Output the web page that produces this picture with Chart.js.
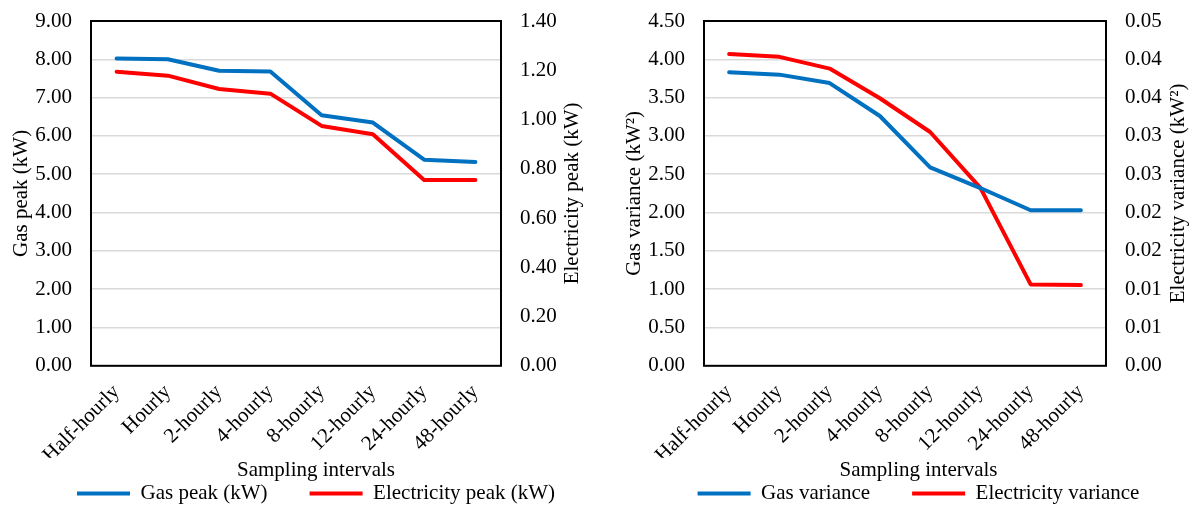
<!DOCTYPE html>
<html>
<head>
<meta charset="utf-8">
<script src="https://cdn.jsdelivr.net/npm/chart.js@4.4.1/dist/chart.umd.min.js"></script>
<style>
  html, body { margin: 0; padding: 0; background: #fff; width: 1192px; height: 506px; overflow: hidden; }
  .panel { position: absolute; top: 0; height: 514px; }
  #leftPanel { left: 0; width: 632px; }
  #rightPanel { left: 596px; width: 645px; }
</style>
</head>
<body>
<div class="panel" id="leftPanel"><canvas id="peakChart"></canvas></div>
<div class="panel" id="rightPanel"><canvas id="varChart"></canvas></div>
<script>
const intervals = ['Half-hourly', 'Hourly', '2-hourly', '4-hourly', '8-hourly', '12-hourly', '24-hourly', '48-hourly']
const gasPeak = [8.02, 8.00, 7.70, 7.68, 6.54, 6.35, 5.38, 5.32]
const elecPeak = [1.194, 1.178, 1.124, 1.105, 0.974, 0.940, 0.754, 0.754]
const gasVariance = [3.83, 3.80, 3.69, 3.26, 2.59, 2.32, 2.03, 2.03]
const elecVariance = [0.0452, 0.0448, 0.0431, 0.0388, 0.0339, 0.0258, 0.0118, 0.0117]

const BLUE = '#0070C0'
const RED = '#FF0000'
const FONT = '"Liberation Serif", "Times New Roman", serif'

Chart.defaults.font.family = FONT
Chart.defaults.font.size = 21
Chart.defaults.color = '#000'

// plot frame + a bottom-to-top title on the right axis (Chart.js only rotates it the other way)
const frameAndRightTitle = {
  id: 'frameAndRightTitle',
  afterDraw(chart, args, opts) {
    const { ctx, chartArea: a } = chart
    ctx.save()
    ctx.strokeStyle = '#000'
    ctx.lineWidth = 2
    ctx.strokeRect(a.left, a.top, a.width, a.height)
    const s = chart.scales.y1
    ctx.translate(s.right - opts.offset, (s.top + s.bottom) / 2)
    ctx.rotate(-Math.PI / 2)
    ctx.textAlign = 'center'
    ctx.textBaseline = 'middle'
    ctx.fillStyle = '#000'
    ctx.font = '21px ' + FONT
    ctx.fillText(opts.text, 0, 0)
    ctx.restore()
  }
}

function lineSet(label, data, color, axis) {
  return {
    label, data, yAxisID: axis,
    borderColor: color, backgroundColor: color,
    borderWidth: 4, pointRadius: 0, tension: 0,
    borderCapStyle: 'round', borderJoinStyle: 'round'
  }
}

// fixed axis width; drop the tick padding that Chart.js adds above/below the y labels
function fixAxis(width) {
  return s => {
    s.width = width
    s.paddingTop = 0
    s.paddingBottom = 0
  }
}

function makeChart(id, cfg) {
  return new Chart(document.getElementById(id), {
    type: 'line',
    data: {
      labels: intervals,
      datasets: [
        lineSet(cfg.gasLabel, cfg.gas, BLUE, 'y'),
        lineSet(cfg.elecLabel, cfg.elec, RED, 'y1')
      ]
    },
    plugins: [frameAndRightTitle],
    options: {
      responsive: true,
      maintainAspectRatio: false,
      animation: false,
      layout: { autoPadding: false, padding: { top: 21, left: 0, right: 0, bottom: 0 } },
      scales: {
        x: {
          offset: true,
          grid: { display: false },
          border: { display: false },
          ticks: { minRotation: 45, maxRotation: 45, autoSkip: false, padding: 6 },
          afterFit(s) { s.height = 92 }
        },
        y: {
          position: 'left',
          min: 0, max: cfg.yMax,
          grid: { color: '#d9d9d9', lineWidth: 1.5, drawTicks: false },
          border: { display: false },
          ticks: { stepSize: cfg.yStep, padding: 19, callback: v => v.toFixed(2) },
          title: { display: true, text: cfg.yTitle, padding: { top: cfg.yTitlePad, bottom: 0 } },
          afterFit: fixAxis(cfg.leftWidth)
        },
        y1: {
          position: 'right',
          min: 0, max: cfg.y1Max,
          grid: { display: false, drawTicks: false },
          border: { display: false },
          ticks: Object.assign({ padding: 19, callback: v => v.toFixed(2) }, cfg.y1Ticks),
          afterFit: fixAxis(cfg.rightWidth)
        }
      },
      plugins: {
        tooltip: { enabled: false },
        frameAndRightTitle: { text: cfg.y1Title, offset: cfg.y1TitleOffset },
        title: {
          display: true,
          text: 'Sampling intervals',
          position: 'bottom',
          weight: 500,
          padding: { top: 0, bottom: 0 },
          font: { size: 21, weight: 'normal' },
          color: '#000'
        },
        legend: {
          position: 'bottom',
          labels: {
            usePointStyle: true,
            pointStyle: 'line',
            pointStyleWidth: 53,
            padding: 0,
            generateLabels(chart) {
              const items = Chart.defaults.plugins.legend.labels.generateLabels(chart)
              items[0].text += '        '
              return items
            }
          }
        }
      }
    }
  })
}

makeChart('peakChart', {
  gas: gasPeak, elec: elecPeak,
  gasLabel: 'Gas peak (kW)', elecLabel: 'Electricity peak (kW)',
  yMax: 9, yStep: 1, yTitle: 'Gas peak (kW)', yTitlePad: 8.4, leftWidth: 91,
  y1Max: 1.4, y1Ticks: { stepSize: 0.2 }, y1Title: 'Electricity peak (kW)',
  y1TitleOffset: 60, rightWidth: 131
})

makeChart('varChart', {
  gas: gasVariance, elec: elecVariance,
  gasLabel: 'Gas variance', elecLabel: 'Electricity variance',
  yMax: 4.5, yStep: 0.5, yTitle: 'Gas variance (kW²)', yTitlePad: 25.4, leftWidth: 108,
  y1Max: 0.05, y1Ticks: { count: 10 }, y1Title: 'Electricity variance (kW²)',
  y1TitleOffset: 63, rightWidth: 135
})
</script>
</body>
</html>
